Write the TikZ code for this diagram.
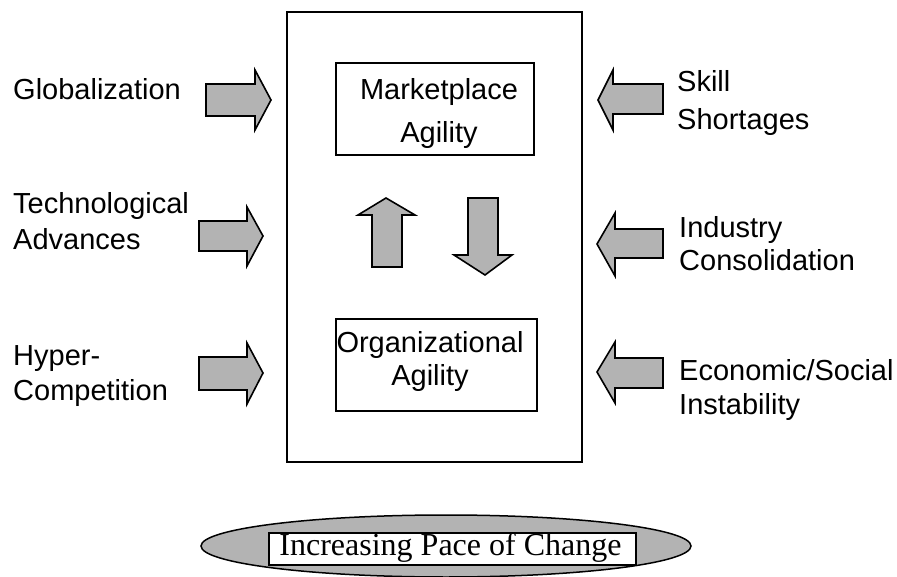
\documentclass[tikz,border=0pt]{standalone}
\usepackage{fontspec}
\setmainfont{Liberation Sans}
\newfontfamily\timesf{Liberation Serif}
\definecolor{arrowgray}{RGB}{179,179,179}
\tikzset{
  blockarrow/.style={draw=black, fill=arrowgray, line width=1.6pt, line join=miter},
  boxline/.style={draw=black, line width=1.5pt},
  lbl/.style={inner sep=0pt, anchor=base west, align=left, font=\fontsize{29}{35}\selectfont},
  boxtext/.style={inner sep=0pt, anchor=base, align=center, font=\fontsize{29}{34}\selectfont},
}
\begin{document}
\begin{tikzpicture}[x=1pt,y=-1pt]
\useasboundingbox (0,0) rectangle (897,577);
% outer frame
\draw[boxline] (287,12) rectangle (582,462);
% inner boxes
\draw[boxline] (336,63) rectangle (534,155);
\draw[boxline] (336,319) rectangle (537,411);
\node[boxtext, font=\fontsize{29}{43}\selectfont] (mkt) at (439,143) {Marketplace\\Agility};
\node[boxtext, font=\fontsize{29}{33}\selectfont] (org) at (430,385) {Organizational\\Agility};
% vertical arrows
\draw[blockarrow] (386,198) -- (415,215) -- (402,215) -- (402,267) -- (372,267) -- (372,215) -- (358,215) -- cycle;
\draw[blockarrow] (468,198) -- (498,198) -- (498,255) -- (512,255) -- (485,275) -- (454,255) -- (468,255) -- cycle;
% left arrows
\draw[blockarrow] (206,84) -- (255,84) -- (255,70) -- (271,100) -- (255,130) -- (255,116) -- (206,116) -- cycle;
\draw[blockarrow] (199,221) -- (247,221) -- (247,207) -- (263,236) -- (247,266) -- (247,251) -- (199,251) -- cycle;
\draw[blockarrow] (199,357) -- (247,357) -- (247,343) -- (263,373) -- (247,404) -- (247,390) -- (199,390) -- cycle;
% right arrows
\draw[blockarrow] (663,84) -- (613,84) -- (613,70) -- (598,100) -- (613,130) -- (613,114) -- (663,114) -- cycle;
\draw[blockarrow] (663,229) -- (615,229) -- (615,213) -- (597,244) -- (615,276) -- (615,258) -- (663,258) -- cycle;
\draw[blockarrow] (663,358) -- (615,358) -- (615,342) -- (597,372) -- (615,403) -- (615,388) -- (663,388) -- cycle;
% left labels
\node[lbl] (glob) at (13,100) {Globalization};
\node[lbl, font=\fontsize{29}{36}\selectfont] (tech) at (13,250) {Technological\\Advances};
\node[lbl, font=\fontsize{29}{35}\selectfont] (hyper) at (13,400) {Hyper-\\Competition};
% right labels
\node[lbl, font=\fontsize{29}{38}\selectfont] (skill) at (677,130) {Skill\\Shortages};
\node[lbl, font=\fontsize{29}{33}\selectfont] (ind) at (679,271) {Industry\\Consolidation};
\node[lbl, font=\fontsize{29}{34}\selectfont] (econ) at (679,414) {Economic/Social\\Instability};
% bottom ellipse
\draw[black, fill=arrowgray, line width=1.5pt] (446,546) ellipse [x radius=245, y radius=31];
\node[draw=black, fill=white, line width=1.5pt, minimum width=367pt, minimum height=32pt, inner sep=0pt] (pace) at (452.5,549) {};
\node[inner sep=0pt, anchor=base, font=\timesf\fontsize{32}{36}\selectfont] (pacetext) at (450.5,555) {Increasing Pace of Change};
\end{tikzpicture}
\end{document}
